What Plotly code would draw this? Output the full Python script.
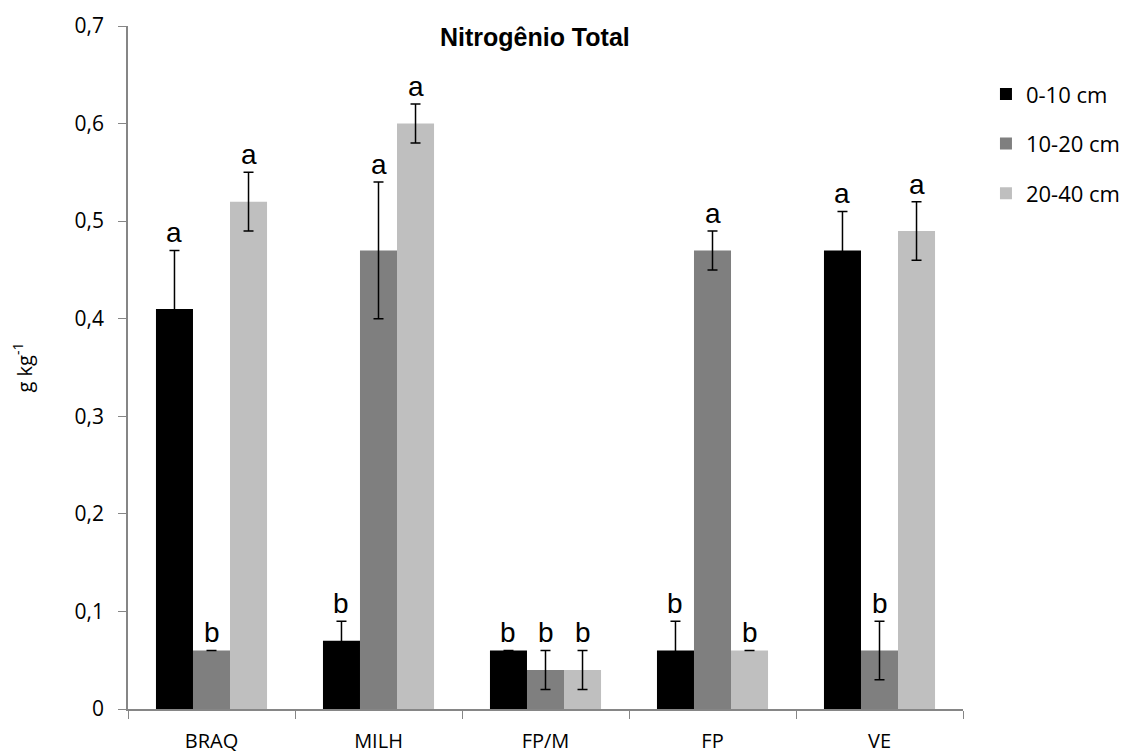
import plotly.graph_objects as go

categories = ["BRAQ", "MILH", "FP/M", "FP", "VE"]
series_names = ["0-10 cm", "10-20 cm", "20-40 cm"]
values_0_10 = [0.41, 0.07, 0.06, 0.06, 0.47]
values_10_20 = [0.06, 0.47, 0.04, 0.47, 0.06]
values_20_40 = [0.52, 0.60, 0.04, 0.06, 0.49]
err_0_10 = [0.06, 0.02, 0.0, 0.03, 0.04]
err_10_20 = [0.0, 0.07, 0.02, 0.02, 0.03]
err_20_40 = [0.03, 0.02, 0.02, 0.0, 0.03]
letters_0_10 = ["a", "b", "b", "b", "a"]
letters_10_20 = ["b", "a", "b", "a", "b"]
letters_20_40 = ["a", "a", "b", "b", "a"]
y_tickvals = [0, 0.1, 0.2, 0.3, 0.4, 0.5, 0.6, 0.7]
y_ticktext = ["0", "0,1", "0,2", "0,3", "0,4", "0,5", "0,6", "0,7"]

colors = ["#000000", "#7f7f7f", "#bfbfbf"]
values = [values_0_10, values_10_20, values_20_40]
errs = [err_0_10, err_10_20, err_20_40]
letters = [letters_0_10, letters_10_20, letters_20_40]

L, R, T, B = 120, 178, 18, 53
W, H = 1133, 754
bargap = 0.335
plot_w = W - L - R
cat_w = plot_w / len(categories)
bar_w = cat_w * (1 - bargap) / 3

fig = go.Figure()
for i in range(3):
    fig.add_trace(go.Bar(
        x=categories, y=values[i], name=series_names[i],
        marker=dict(color=colors[i], line=dict(width=0)),
        error_y=dict(type="data", array=errs[i], visible=True,
                     color="#000000", thickness=1.5, width=5),
        legendgroup=str(i),
    ))
    for j, c in enumerate(categories):
        fig.add_annotation(
            x=c, y=values[i][j] + errs[i][j], xref="x", yref="y",
            text=letters[i][j], showarrow=False,
            xshift=(i - 1) * bar_w, yshift=0, yanchor="bottom",
            font=dict(family="Liberation Sans, Arial", size=28, color="#000000"),
        )

fig.update_layout(
    width=W, height=H,
    margin=dict(l=L, r=R, t=T, b=B, autoexpand=False),
    paper_bgcolor="white", plot_bgcolor="white",
    barmode="group", bargap=bargap, bargroupgap=0,
    title=dict(text="<b>Nitrogênio Total</b>", x=0.465, xanchor="center",
               y=0.9615, yanchor="middle",
               font=dict(family="Liberation Sans, Arial", size=25, color="#000000")),
    legend=dict(x=1.0275, y=0.931, xanchor="left", yanchor="top",
                font=dict(family="Open Sans, Calibri", size=22, color="#000000"),
                tracegroupgap=18, itemwidth=30),
    showlegend=True,
)
fig.update_xaxes(
    showline=True, linecolor="#868686", linewidth=1.5, automargin=False,
    ticks="outside", tickson="boundaries", ticklen=8, tickcolor="#868686",
    tickfont=dict(family="Open Sans, Calibri", size=20, color="#000000"),
    ticklabelstandoff=13, showgrid=False,
)
fig.update_yaxes(
    range=[0, 0.7], tickvals=y_tickvals, ticktext=y_ticktext, automargin=False,
    showline=True, linecolor="#868686", linewidth=1.5,
    ticks="outside", ticklen=8, tickcolor="#868686",
    tickfont=dict(family="Open Sans, Calibri", size=21, color="#000000"),
    ticklabelstandoff=10, showgrid=False, zeroline=False,
    title=dict(text="g kg<sup>-1</sup>", standoff=37,
               font=dict(family="Open Sans, Calibri", size=20, color="#000000")),
)
fig.write_html("out.html")
